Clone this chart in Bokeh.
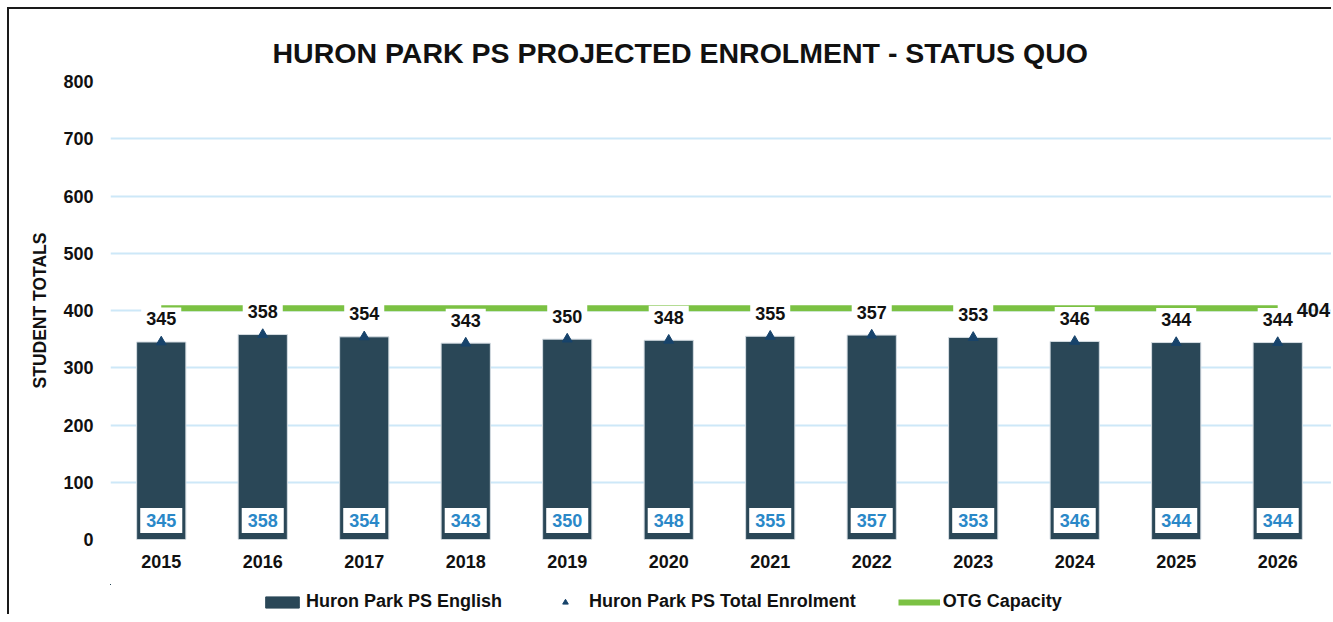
from bokeh.plotting import figure
from bokeh.layouts import column
from bokeh.models import (ColumnDataSource, Label, Legend, LegendItem,
                          FixedTicker, Range1d)
from bokeh.core.properties import value
from bokeh.embed import file_html
from bokeh.resources import INLINE

years = ["2015", "2016", "2017", "2018", "2019", "2020", "2021", "2022", "2023", "2024", "2025", "2026"]
english = [345, 358, 354, 343, 350, 348, 355, 357, 353, 346, 344, 344]
total = [345, 358, 354, 343, 350, 348, 355, 357, 353, 346, 344, 344]
otg_capacity = [404] * 12
y_ticks = [0, 100, 200, 300, 400, 500, 600, 700, 800]

FONT = "Liberation Sans"
BAR = "#2A4757"
GREEN = "#7BC143"
NAVY = "#17436B"
BLUE = "#2A88C8"
GRID = "#CDE8F8"
INK = "#111111"

idx = list(range(len(years)))
src = ColumnDataSource(dict(
    x=idx, year=years, english=english, total=total, otg=otg_capacity,
    eng_lbl=[str(v) for v in english], tot_lbl=[str(v) for v in total],
    zero=[0] * len(years),
))

p = figure(width=1322, height=575, output_backend="svg", toolbar_location=None,
           x_range=Range1d(-0.5, 11.53), y_range=Range1d(0, 800),
           min_border_left=101, min_border_right=0, min_border_top=72, min_border_bottom=45)
p.outline_line_color = None
p.background_fill_color = "white"
p.border_fill_color = "white"

p.title.text = "HURON PARK PS PROJECTED ENROLMENT - STATUS QUO"
p.title.text_font = FONT
p.title.text_font_size = "28.5px"
p.title.text_font_style = "bold"
p.title.text_color = INK
p.title.align = "left"
p.title.offset = 162
p.title.standoff = 25

bars = p.vbar(x="x", top="english", width=0.485, source=src, fill_color=BAR,
              line_color="#D5DDE3", line_width=1)
otg = p.line(x="x", y="otg", source=src, line_color=GREEN, line_width=6)
tri = p.scatter(x="x", y="total", source=src, marker="triangle", size=10,
                fill_color=NAVY, line_color=NAVY)

# labels above bars (total enrolment)
p.text(x="x", y="total", text="tot_lbl", source=src, y_offset=-23,
       text_align="center", text_baseline="middle",
       text_font=value(FONT), text_font_size="18px", text_font_style="bold",
       text_color=INK, background_fill_color="white", padding=5)

# labels at bottom of bars (English)
p.text(x="x", y="zero", text="eng_lbl", source=src, y_offset=-19,
       text_align="center", text_baseline="middle",
       text_font=value(FONT), text_font_size="18px", text_font_style="bold",
       text_color=BLUE, background_fill_color="white", padding=6)

cap_label = Label(x=idx[-1], y=otg_capacity[-1], text=str(otg_capacity[-1]), x_offset=19,
                  y_offset=-2, text_baseline="middle", text_align="left",
                  text_font=FONT, text_font_size="20px", text_font_style="bold",
                  text_color=INK)
p.add_layout(cap_label)

p.xgrid.grid_line_color = None
p.ygrid.grid_line_color = GRID
p.ygrid.grid_line_width = 2
p.yaxis.ticker = FixedTicker(ticks=y_ticks)
p.xaxis.ticker = FixedTicker(ticks=idx)
p.xaxis.major_label_overrides = {i: y for i, y in zip(idx, years)}

for ax in (p.xaxis, p.yaxis):
    ax.axis_line_color = None
    ax.major_tick_line_color = None
    ax.minor_tick_line_color = None
    ax.major_tick_out = 0
    ax.major_tick_in = 0
    ax.minor_tick_out = 0
    ax.major_label_text_font = FONT
    ax.major_label_text_font_size = "18px"
    ax.major_label_text_font_style = "bold"
    ax.major_label_text_color = INK
p.xaxis.major_label_standoff = 15
p.yaxis.major_label_standoff = 17
p.yaxis.axis_label = "STUDENT TOTALS"
p.yaxis.axis_label_text_font = FONT
p.yaxis.axis_label_text_font_size = "17.5px"
p.yaxis.axis_label_text_font_style = "bold"
p.yaxis.axis_label_text_color = INK
p.yaxis.axis_label_standoff = 10

# legend strip (its glyphs reuse the same data, kept out of view)
leg = figure(width=1322, height=30, output_backend="svg", toolbar_location=None,
             x_range=Range1d(100, 101), y_range=Range1d(-100, -99),
             x_axis_type=None, y_axis_type=None, min_border=0)
leg.outline_line_color = None
leg.xgrid.grid_line_color = None
leg.ygrid.grid_line_color = None
lb = leg.vbar(x="x", top="english", width=0.485, source=src, fill_color=BAR, line_color=BAR)
lt = leg.scatter(x="x", y="total", source=src, marker="triangle", size=10,
                 fill_color=NAVY, line_color=NAVY)
ll = leg.line(x="x", y="otg", source=src, line_color=GREEN, line_width=6)

legend = Legend(items=[
    LegendItem(label="Huron Park PS English", renderers=[lb]),
    LegendItem(label="Huron Park PS Total Enrolment", renderers=[lt]),
    LegendItem(label="OTG Capacity", renderers=[ll]),
], orientation="horizontal", location=(151, 2),
    label_text_font=FONT, label_text_font_size="18px", label_text_font_style="bold",
    label_text_color=INK, border_line_color=None, background_fill_alpha=0,
    spacing=42, glyph_width=42, glyph_height=14, label_standoff=3, margin=0, padding=0)
leg.add_layout(legend)

layout = column(p, leg, margin=(7, 0, 0, 7),
                styles={"border-left": "2px solid #1a1a1a", "border-top": "2px solid #1a1a1a"})

open("out.html", "w").write(file_html(layout, INLINE))
